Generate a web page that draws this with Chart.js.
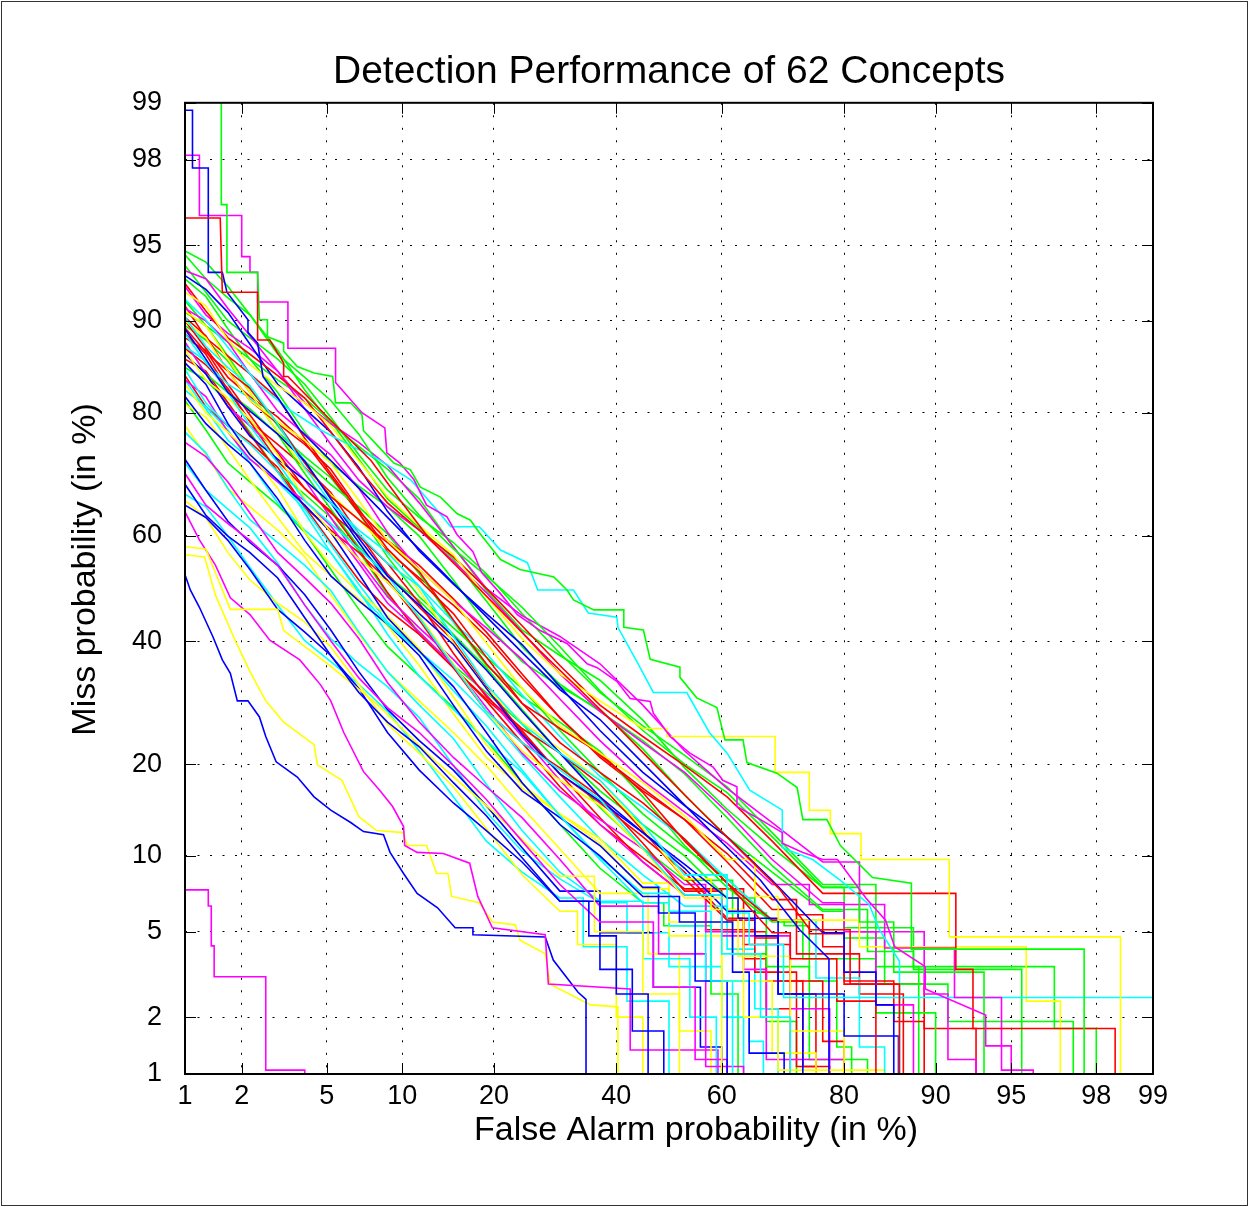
<!DOCTYPE html>
<html>
<head>
<meta charset="utf-8">
<script src="https://cdn.jsdelivr.net/npm/chart.js@4/dist/chart.umd.min.js"></script>
<style>
html,body{margin:0;padding:0;background:#fff;}
canvas{display:block;}
</style>
</head>
<body>
<canvas id="c" width="1249" height="1207"></canvas>
<script>
// ---------------- DATA (percent values) ----------------
const chartTitle = 'Detection Performance of 62 Concepts';
const xTitle = 'False Alarm probability (in %)';
const yTitle = 'Miss probability (in %)';
const axisMin = 1, axisMax = 99;
const tickValues = [1, 2, 5, 10, 20, 40, 60, 80, 90, 95, 98, 99];

// each curve: vertices [False Alarm %, Miss %]
const redCurves = [
  [[1,96.2],[1.55,96.2],[1.59,92.2],[2.4,92.2],[2.4,88.3],[2.75,88.3],[3.2,86.0],[3.2,84.5],[3.35,84.5],[4.25,81.7],[5.7,77.6],[7.6,73.0],[9.8,66.4],[12.5,59.3],[17,51.6],[20.9,45.8],[26.8,38.2],[33.4,31.4],[40.7,25.0],[48.3,19.2],[55.9,14.4],[63.4,10.5],[70.2,7.5],[75.1,5.1],[80.8,5.1],[80.8,2.9],[86.6,2.9],[86.6,0.5]],
  [[1,92.8],[1.3,90.8],[1.7,88.5],[2.2,86.9],[3,84.6],[4,81.9],[5.2,77.3],[6.8,71.6],[8.8,65.9],[11.5,61.0],[15,56.0],[19,50.0],[24,42.9],[30,35.6],[37,28.8],[45,23.9],[53,19.8],[61,15.9],[69,11.3],[77,7.2],[91.6,7.2],[91.6,3.4],[92.8,3.4],[92.8,1.75],[98.4,1.75],[98.4,0.5]],
  [[1,90.3],[1.3,88.7],[1.7,85.1],[2.2,81.6],[3,78.5],[4,75.5],[5.2,71.6],[6.8,64.8],[8.8,57.5],[11.5,51.6],[15,45.2],[19,37.1],[24,29.1],[30,23.0],[37,18.9],[45,15.2],[53,11.5],[61,7.9],[69,4.95],[72,4.95],[72,3.8],[79,3.8],[79,2.4],[84,2.4],[84,0.5]],
  [[1,89.4],[1.3,87.1],[1.7,85.1],[2.2,83.1],[3,78.5],[4,72.6],[5.2,67.0],[6.8,62.9],[8.8,58.7],[11.5,53.2],[15,44.0],[19,35.9],[24,29.1],[30,25.1],[37,21.5],[45,16.4],[53,11.3],[61,7.9],[69,5.6],[75,5.6],[75,4.9],[80,4.9],[80,3.0],[86,3.0],[86,1.9],[89,1.9],[89,0.5]],
  [[1,88.5],[1.3,87.3],[1.7,83.6],[2.2,79.7],[3,74.2],[4,68.4],[5.2,64.1],[6.8,59.9],[8.8,54.8],[11.5,47.2],[15,37.8],[19,30.2],[24,25.1],[30,21.5],[37,17.4],[45,12.3],[53,8.2],[61,5.6],[66,5.6],[66,4.7],[70,4.7],[70,3.0],[77,3.0],[77,1.5],[80,1.5],[80,0.5]],
  [[1,91.2],[1.3,88.5],[1.7,86.7],[2.2,84.8],[3,81.9],[4,76.4],[5.2,70.9],[6.8,64.4],[8.8,59.1],[11.5,54.4],[15,48.0],[19,41.7],[24,34.1],[30,26.8],[37,21.2],[45,16.9],[53,13.4],[61,9.5],[69,6.2],[73,6.2],[73,4.0],[82,4.0],[82,2.6],[87,2.6],[87,0.5]],
  [[1,87.5],[1.3,85.8],[1.7,83.1],[2.2,78.8],[3,72.9],[4,68.4],[5.2,64.4],[6.8,57.5],[8.8,49.2],[11.5,41.3],[15,35.2],[19,29.8],[24,24.8],[30,18.7],[37,13.6],[45,9.5],[53,7.1],[57,7.1],[57,5.1],[66,5.1],[66,3.3],[73,3.3],[73,1.1],[76,1.1],[76,0.5]],
  [[1,90.0],[1.3,87.5],[1.7,84.4],[2.2,82.1],[3,79.4],[4,75.8],[5.2,70.5],[6.8,64.1],[8.8,57.1],[11.5,52.0],[15,46.8],[19,40.9],[24,33.4],[30,26.8],[37,20.9],[45,16.6],[53,13.4],[61,10.2],[69,6.8],[73,6.8],[73,5.9],[77,5.9],[77,4.3],[80,4.3],[80,2.9],[89,2.9],[89,1.75],[93,1.75],[93,0.5]],
  [[1,88.9],[1.3,86.9],[1.7,82.9],[2.2,78.8],[3,75.5],[4,71.9],[5.2,67.7],[6.8,60.3],[8.8,52.8],[11.5,46.4],[15,40.1],[19,31.9],[24,24.5],[30,18.7],[37,15.2],[45,11.7],[53,8.7],[61,5.7],[64,5.7],[64,3.8],[68,3.8],[68,2.2],[72,2.2],[72,0.5]],
  [[1,86.4],[1.3,85.1],[1.7,81.3],[2.2,77.0],[3,71.2],[4,65.2],[5.2,61.0],[6.8,56.8],[8.8,51.6],[11.5,44.0],[15,35.2],[19,27.8],[24,23.0],[30,19.5],[37,15.9],[45,11.1],[53,7.35],[60,7.35],[60,5.0],[68,5.0],[68,3.0],[74,3.0],[74,1.1],[78,1.1],[78,0.5]],
  [[1,84.6],[1.3,80.8],[1.7,78.2],[2.2,75.8],[3,71.9],[4,65.2],[5.2,58.7],[6.8,51.6],[8.8,46.0],[11.5,41.3],[15,35.2],[19,29.5],[24,23.0],[30,17.1],[37,12.9],[45,9.85],[53,7.5],[64,7.5],[64,4.4],[72,4.4],[72,2.6],[76,2.6],[76,0.5]]
];
const greenCurves = [
  [[1.57,99.5],[1.57,96.7],[1.68,96.7],[1.68,93.5],[2.4,93.5],[2.45,90.1],[2.68,90.1],[2.68,88.6],[3.2,88],[3.2,87.2],[3.7,85.6],[4.4,84.9],[5.3,84.5],[5.45,81.3],[6.3,81.3],[7.0,79.7],[7.1,77.5],[8.2,75],[9.3,72.6],[10.7,71.5],[11.6,68.6],[13.6,66.9],[15.4,64],[17,62.8],[18.1,60.5],[20.9,55.5],[23.7,53.6],[29,52.2],[31.2,49.7],[32.3,47.8],[35.9,45.9],[41.4,45.9],[41.4,42.6],[45.1,42.1],[46.4,36.7],[52.1,35.3],[52.1,33.5],[55.3,30],[59.1,28.4],[60.6,23.4],[63.9,23.4],[64.6,20.2],[69.8,18.8],[73.1,17],[74,13.4],[77.6,13.4],[79.5,10.9],[83.6,8.3],[87.8,7.9],[87.8,4.2],[97.7,4.2],[97.7,0.5]],
  [[1,94.7],[1.3,94.1],[1.7,92.6],[2.2,90.5],[3,86.9],[4,84.4],[5.2,81.6],[6.8,77.0],[8.8,70.2],[11.5,63.7],[15,57.5],[19,52.4],[24,46.4],[30,39.0],[37,31.2],[45,24.8],[53,20.0],[61,16.4],[69,11.7],[77,7.6],[82,7.6],[82,5.5],[86,5.5],[86,3.3],[93.5,3.3],[93.5,0.5]],
  [[1,93.9],[1.3,92.2],[1.7,90.0],[2.2,88.5],[3,86.4],[4,83.6],[5.2,79.4],[6.8,73.9],[8.8,68.1],[11.5,63.3],[15,58.7],[19,52.8],[24,45.2],[30,37.8],[37,30.9],[45,25.5],[53,21.2],[61,17.1],[69,12.1],[77,7.8],[84,7.8],[84,5.2],[88,5.2],[88,3.5],[96.8,3.5],[96.8,1.75],[98,1.75],[98,0.5]],
  [[1,93.1],[1.3,91.9],[1.7,89.3],[2.2,86.4],[3,84.1],[4,81.9],[5.2,78.8],[6.8,73.2],[8.8,66.6],[11.5,61.4],[15,55.6],[19,47.6],[24,39.0],[30,32.3],[37,27.8],[45,23.3],[53,18.7],[61,13.6],[69,9.2],[77,6.2],[83,6.2],[83,4.1],[88,4.1],[88,3.4],[95.5,3.4],[95.5,0.5]],
  [[1,94.5],[1.3,93.1],[1.7,91.8],[2.2,90.5],[3,87.3],[4,82.9],[5.2,78.5],[6.8,75.2],[8.8,71.6],[11.5,66.6],[15,57.9],[19,49.6],[24,42.1],[30,37.4],[37,33.0],[45,26.4],[53,19.5],[61,14.5],[69,10.7],[77,7.6],[80,7.6],[80,4.7],[85,4.7],[85,2.9],[91,2.9],[91,1.9],[97.4,1.9],[97.4,0.5]],
  [[1,91.6],[1.3,89.6],[1.7,88.1],[2.2,86.4],[3,82.6],[4,77.3],[5.2,72.6],[6.8,68.8],[8.8,65.2],[11.5,59.9],[15,51.6],[19,43.2],[24,36.3],[30,31.9],[37,28.1],[45,22.1],[53,16.1],[61,11.7],[69,8.7],[77,6.1],[80,6.1],[80,5.2],[84,5.2],[84,3.5],[88.5,3.5],[88.5,0.5]],
  [[1,90.7],[1.3,89.6],[1.7,86.7],[2.2,83.1],[3,78.2],[4,72.9],[5.2,69.1],[6.8,65.2],[8.8,60.3],[11.5,52.8],[15,43.6],[19,35.6],[24,30.2],[30,26.1],[37,21.8],[45,15.9],[53,10.9],[61,7.6],[69,5.5],[74,5.5],[74,3.8],[84,3.8],[84,2.1],[90,2.1],[90,0.5]],
  [[1,88.1],[1.3,84.8],[1.7,82.6],[2.2,80.5],[3,77.0],[4,70.9],[5.2,64.8],[6.8,57.9],[8.8,52.4],[11.5,47.6],[15,41.3],[19,35.2],[24,28.1],[30,21.5],[37,16.6],[45,12.9],[53,10.0],[61,6.9],[66,6.9],[66,6.0],[68,6.0],[68,3.5],[75,3.5],[75,1.2],[83,1.2],[83,0.5]],
  [[1,89.6],[1.3,88.3],[1.7,86.2],[2.2,82.6],[3,77.3],[4,73.6],[5.2,70.2],[6.8,64.1],[8.8,56.0],[11.5,48.4],[15,42.5],[19,37.1],[24,31.6],[30,24.8],[37,18.9],[45,14.0],[53,10.7],[61,8.2],[69,5.6],[71,5.6],[71,5.3],[75,5.3],[75,3.0],[79,3.0],[79,1.4],[81,1.4],[81,0.5]],
  [[1,85.5],[1.3,84.1],[1.7,81.3],[2.2,77.3],[3,71.2],[4,67.4],[5.2,63.3],[6.8,57.1],[8.8,48.8],[11.5,41.7],[15,35.6],[19,30.9],[24,25.8],[30,20.0],[37,14.7],[45,10.7],[53,8.1],[62,8.1],[62,4.0],[68,4.0],[68,1.9],[73,1.9],[73,0.5]],
  [[1,81.6],[1.3,77.6],[1.7,72.6],[2.2,69.5],[3,65.5],[4,60.6],[5.2,53.6],[6.8,46.0],[8.8,39.0],[11.5,33.7],[15,28.4],[19,23.3],[24,17.6],[30,12.9],[37,9.0],[45,6.6],[49,6.6],[49,5.3],[58,5.3],[58,2.6],[63,2.6],[63,0.5]]
];
const blueCurves = [
  [[1,98.9],[1.1,98.9],[1.1,97.8],[1.34,97.8],[1.34,93.5],[1.59,93.5],[1.68,92.2],[2.15,90.1],[2.15,89.0],[2.4,88.0],[2.55,84.5],[3.05,81.7],[3.8,77.6],[5.2,73.0],[6.9,68.2],[9.8,61.0],[13.6,53.5],[18.2,45.8],[23.8,38.2],[30.0,31.4],[37.0,26.5],[44.5,20.5],[52.1,15.5],[59.6,11.4],[67.0,8.1],[73.5,5.1],[77.9,3.8],[77.9,0.5]],
  [[1,93.3],[1.3,92.4],[1.7,90.7],[2.2,87.9],[3,83.6],[4,80.5],[5.2,77.3],[6.8,71.9],[8.8,64.4],[11.5,57.1],[15,50.8],[19,45.2],[24,39.4],[30,31.9],[37,24.8],[45,18.9],[53,14.9],[61,11.7],[69,8.1],[77,4.95],[80,4.95],[80,3.3],[84,3.3],[84,2.3],[86,2.3],[86,0.5]],
  [[1,89.3],[1.3,86.4],[1.7,82.6],[2.2,80.2],[3,77.0],[4,72.9],[5.2,66.6],[6.8,59.5],[8.8,52.4],[11.5,46.8],[15,40.9],[19,34.8],[24,27.8],[30,21.5],[37,15.9],[45,12.1],[53,9.3],[61,6.9],[63,6.9],[63,5.7],[70,5.7],[70,2.6],[80,2.6],[80,1.6],[86.5,1.6],[86.5,0.5]],
  [[1,86.9],[1.3,84.8],[1.7,80.8],[2.2,76.7],[3,73.2],[4,69.8],[5.2,65.9],[6.8,58.7],[8.8,51.2],[11.5,45.2],[15,39.4],[19,31.6],[24,24.2],[30,18.7],[37,15.4],[45,12.1],[53,9.0],[61,6.1],[66,6.1],[66,4.8],[70,4.8],[70,2.6],[74,2.6],[74,0.5]],
  [[1,86.0],[1.3,83.6],[1.7,78.5],[2.2,73.9],[3,69.8],[4,65.5],[5.2,60.6],[6.8,52.8],[8.8,44.4],[11.5,38.2],[15,31.9],[19,24.5],[24,17.6],[30,12.9],[37,10.0],[45,7.0],[52,7.0],[52,5.5],[62,5.5],[62,3.3],[65,3.3],[65,1.3],[71,1.3],[71,0.5]],
  [[1,82.1],[1.3,78.5],[1.7,75.5],[2.2,72.6],[3,66.6],[4,59.1],[5.2,52.4],[6.8,47.6],[8.8,43.2],[11.5,37.4],[15,28.8],[19,21.8],[24,16.6],[30,13.6],[37,10.9],[45,7.6],[48,7.6],[48,6.0],[55,6.0],[55,3.0],[61,3.0],[61,0.5]],
  [[1,69.1],[1.3,63.7],[1.7,59.9],[2.2,56.8],[3,52.0],[4,44.4],[5.2,37.4],[6.8,30.9],[8.8,26.1],[11.5,22.4],[15,17.6],[19,13.8],[24,9.85],[30,6.7],[35,6.7],[35,4.8],[40,4.8],[40,2.6],[46,2.6],[46,0.5]],
  [[1,65.5],[1.3,63.3],[1.7,59.1],[2.2,53.6],[3,46.0],[4,41.7],[5.2,37.4],[6.8,31.6],[8.8,24.5],[11.5,19.2],[15,15.2],[19,12.3],[24,9.5],[30,6.7],[37,6.7],[37,3.4],[43,3.4],[43,1.7],[49,1.7],[49,0.5]],
  [[1,73.2],[1.3,68.1],[1.7,62.6],[2.2,58.7],[3,54.4],[4,48.8],[5.2,42.1],[6.8,34.5],[8.8,28.1],[11.5,23.3],[15,19.2],[19,14.9],[24,10.7],[30,7.35],[37,7.35],[37,4.95],[47,4.95],[47,2.8],[56,2.8],[56,1.4],[60,1.4],[60,0.5]],
  [[1,52.6],[1.07,49.7],[1.2,46.4],[1.42,40.8],[1.59,36.6],[1.75,34.2],[1.9,29.5],[2.15,29.5],[2.45,26.9],[2.63,23.9],[2.95,20.3],[3.7,18.3],[4.4,15.9],[5.2,14.4],[6.3,13.1],[7.1,12.2],[8.5,11.9],[9.0,10.3],[10.1,8.6],[11.3,7.2],[13.3,6.3],[15.2,5.2],[17.3,5.2],[17.3,4.85],[27.6,4.75],[28.9,3.75],[33.1,2.65],[34.5,2.45],[34.5,0.5]]
];
const magentaCurves = [
  [[1,98.1],[1.2,98.1],[1.2,96.3],[2.0,96.3],[2.0,94.4],[2.2,94.4],[2.2,93.5],[2.4,93.5],[2.4,91.5],[3.35,91.5],[3.35,87.5],[5.45,87.5],[5.45,83.8],[7.0,80],[8.6,77.9],[8.75,74.2],[9.8,72.6],[11,69.9],[12.2,65.5],[14.3,63.4],[15.4,60.2],[17.3,57],[18.4,53],[20.9,49],[23.3,45],[26.8,42],[31.2,39.6],[34.7,35.9],[36.5,35.2],[40.1,32.8],[42.6,29.9],[46.4,29.4],[47,27.5],[50.2,23.9],[54,21.5],[58.4,19.6],[60.2,17.9],[62.8,17.1],[62.8,14.8],[67,13.4],[70.7,12.1],[70.7,11.1],[74,10.3],[77,9.7],[79.1,9.7],[82.8,6.9],[85.1,5.6],[86.1,4.3],[89.1,3.5],[89.1,2.75],[93.6,2.05],[93.6,1.42],[95,1.42],[95,0.5]],
  [[1,93.6],[1.3,93.1],[1.7,91.0],[2.2,88.7],[3,85.1],[4,81.3],[5.2,78.5],[6.8,75.8],[8.8,72.2],[11.5,65.9],[15,57.9],[19,50.0],[24,44.8],[30,40.9],[37,35.9],[45,28.8],[53,21.8],[61,16.9],[69,13.1],[77,9.5],[82,9.5],[82,6.5],[85,6.5],[85,4.25],[91.5,4.25],[91.5,2.5],[94.5,2.5],[94.5,1.05],[96,1.05],[96,0.5]],
  [[1,92.6],[1.3,90.5],[1.7,88.9],[2.2,87.5],[3,85.1],[4,80.5],[5.2,75.5],[6.8,69.8],[8.8,65.2],[11.5,61.0],[15,55.2],[19,49.2],[24,41.7],[30,34.1],[37,27.8],[45,23.0],[53,18.9],[61,14.2],[69,9.7],[77,6.6],[80,6.6],[80,5.0],[84,5.0],[84,2.3],[88,2.3],[88,0.5]],
  [[1,91.0],[1.3,90.0],[1.7,88.1],[2.2,84.8],[3,80.2],[4,77.0],[5.2,73.9],[6.8,68.4],[8.8,60.6],[11.5,53.6],[15,47.6],[19,42.5],[24,36.7],[30,29.8],[37,23.3],[45,17.9],[53,14.2],[61,11.1],[69,7.8],[75,7.8],[75,6.5],[82,6.5],[82,5.0],[89,5.0],[89,2.6],[91,2.6],[91,1.2],[93,1.2],[93,0.5]],
  [[1,88.1],[1.3,84.8],[1.7,80.8],[2.2,78.2],[3,74.5],[4,69.8],[5.2,63.3],[6.8,55.6],[8.8,48.4],[11.5,42.5],[15,36.7],[19,30.5],[24,23.9],[30,17.9],[37,12.9],[45,9.5],[53,7.1],[60,7.1],[60,4.8],[72,4.8],[72,2.2],[78,2.2],[78,0.5]],
  [[1,84.1],[1.3,82.1],[1.7,77.3],[2.2,73.2],[3,69.5],[4,66.3],[5.2,61.8],[6.8,54.8],[8.8,47.2],[11.5,41.7],[15,35.6],[19,28.4],[24,21.5],[30,16.6],[37,13.4],[45,10.6],[53,7.8],[57,7.8],[57,5.0],[64,5.0],[64,3.4],[68,3.4],[68,1.2],[80,1.2],[80,0.5]],
  [[1,70.9],[1.3,65.5],[1.7,62.2],[2.2,59.1],[3,54.4],[4,46.8],[5.2,40.1],[6.8,33.4],[8.8,28.4],[11.5,24.5],[15,19.8],[19,15.6],[24,11.3],[30,7.8],[37,5.5],[47,5.5],[47,2.8],[55,2.8],[55,1.2],[61,1.2],[61,0.5]],
  [[1,75.8],[1.3,73.6],[1.7,69.5],[2.2,64.1],[3,56.8],[4,52.0],[5.2,47.2],[6.8,40.5],[8.8,32.6],[11.5,26.1],[15,20.9],[19,17.1],[24,13.6],[30,9.7],[37,6.4],[48,6.4],[48,4.0],[57,4.0],[57,1.1],[64,1.1],[64,0.5]],
  [[1,64.3],[1.2,59.2],[1.46,54.5],[1.75,48.2],[2.2,45.0],[2.75,40.2],[3.8,36.6],[4.7,32.2],[5.2,29.5],[5.9,24.5],[7.1,19.0],[8.2,16.7],[9.2,14.8],[10.1,12.7],[10.2,10.9],[11.3,10.3],[13.9,10.2],[16.9,9.4],[17.9,7.0],[19.8,5.2],[27.6,4.85],[28.1,2.9],[42.6,2.75],[42.6,1.35],[59.3,1.35],[59.3,0.5]],
  [[1,7.43],[1.34,7.43],[1.34,6.41],[1.39,6.41],[1.39,4.34],[1.44,4.34],[1.44,3.14],[2.63,3.14],[2.63,1.05],[4.0,1.05],[4.0,0.5]]
];
const cyanCurves = [
  [[1,91.7],[1.3,90.1],[1.75,87.3],[2.45,83.5],[3.4,80.4],[4.7,77.6],[6.3,75.3],[8.2,73.1],[10.7,69.9],[13.6,63.9],[14.7,61.6],[18.1,61.6],[20.9,57.3],[24.8,54.9],[26.4,49.7],[32.3,49.7],[34.9,45.3],[40.1,44.5],[40.3,42.6],[44.1,35.9],[47,30.9],[53.4,30.9],[57.7,24.5],[61,21.5],[65.1,16.7],[70.7,14.4],[70.7,10.7],[75.5,9.7],[79.5,8.1],[83.2,6.5],[84.4,5.1],[86.6,3.7],[86.6,0.5]],
  [[1,90.3],[1.3,87.7],[1.7,85.5],[2.2,83.4],[3,78.5],[4,71.9],[5.2,65.9],[6.8,61.0],[8.8,56.8],[11.5,50.4],[15,40.9],[19,32.3],[24,25.8],[30,21.5],[37,17.9],[45,12.9],[53,8.5],[61,8.5],[61,6.0],[65,6.0],[65,4.4],[70.9,4.4],[70.9,2.5],[99.5,2.5]],
  [[1,87.7],[1.3,86.2],[1.7,82.6],[2.2,78.2],[3,72.6],[4,66.3],[5.2,62.2],[6.8,57.5],[8.8,52.4],[11.5,44.4],[15,35.6],[19,27.8],[24,23.0],[30,19.2],[37,15.6],[45,10.7],[53,7.1],[60,7.1],[60,4.0],[67,4.0],[67,2.0],[72,2.0],[72,0.5]],
  [[1,88.9],[1.3,86.0],[1.7,83.6],[2.2,81.9],[3,78.5],[4,72.9],[5.2,66.6],[6.8,60.3],[8.8,54.8],[11.5,50.4],[15,43.6],[19,37.8],[24,30.5],[30,23.9],[37,18.4],[45,14.7],[53,11.5],[61,8.2],[69,5.6],[76,5.6],[76,3.1],[82,3.1],[82,1.4],[85,1.4],[85,0.5]],
  [[1,85.3],[1.3,81.3],[1.7,78.2],[2.2,75.5],[3,71.2],[4,64.1],[5.2,56.8],[6.8,49.2],[8.8,43.2],[11.5,38.2],[15,31.2],[19,25.5],[24,19.2],[30,13.8],[37,9.85],[45,7.2],[50,7.2],[50,6.1],[58,6.1],[58,3.0],[65,3.0],[65,1.5],[67.5,1.5],[67.5,0.5]],
  [[1,82.9],[1.3,80.8],[1.7,77.6],[2.2,72.6],[3,65.9],[4,61.0],[5.2,56.8],[6.8,49.6],[8.8,41.3],[11.5,33.7],[15,28.1],[19,23.3],[24,18.9],[30,13.8],[37,9.7],[45,6.6],[50,6.6],[50,5.3],[57,5.3],[57,3.0],[62,3.0],[62,0.5]],
  [[1,84.1],[1.3,80.5],[1.7,76.1],[2.2,73.2],[3,69.5],[4,64.8],[5.2,58.3],[6.8,50.8],[8.8,43.6],[11.5,38.2],[15,33.0],[19,27.4],[24,21.2],[30,15.9],[37,11.5],[45,8.5],[53,6.4],[61,6.4],[61,4.2],[66,4.2],[66,2.2],[70,2.2],[70,0.5]],
  [[1,77.3],[1.3,74.2],[1.7,68.4],[2.2,62.9],[3,58.7],[4,54.4],[5.2,49.6],[6.8,41.7],[8.8,34.5],[11.5,28.8],[15,23.6],[19,17.4],[24,12.3],[30,8.7],[37,6.7],[45,6.7],[45,3.8],[54,3.8],[54,2.0],[59,2.0],[59,0.5]],
  [[1,72.6],[1.3,68.1],[1.7,64.8],[2.2,61.4],[3,54.8],[4,46.8],[5.2,40.5],[6.8,35.9],[8.8,31.9],[11.5,26.8],[15,19.8],[19,14.2],[24,10.4],[30,8.2],[37,6.6],[42,6.6],[42,4.95],[50,4.95],[50,3.5],[60,3.5],[60,2.0],[64,2.0],[64,0.5]],
  [[1,67.4],[1.3,65.2],[1.7,59.9],[2.2,54.0],[3,46.8],[4,40.1],[5.2,36.3],[6.8,32.3],[8.8,27.8],[11.5,21.8],[15,15.9],[19,11.3],[24,8.7],[30,6.9],[34,6.9],[34,4.3],[42,4.3],[42,2.4],[50,2.4],[50,0.5]]
];
const yellowCurves = [
  [[1,92.2],[1.3,91.2],[1.7,88.3],[2.2,85.8],[3,83.4],[4,81.3],[5.2,78.2],[6.8,72.9],[8.8,67.0],[11.5,61.8],[15,56.4],[19,48.4],[24,40.5],[30,34.1],[37,29.5],[45,25.1],[49.6,25.1],[49.6,23.9],[69.5,23.9],[69.5,18.9],[75,18.9],[75,14.4],[78.1,14.4],[78.1,12.0],[82.2,12.0],[82.2,9.7],[91.1,9.7],[91.1,4.75],[98.5,4.75],[98.5,0.5]],
  [[1,90.0],[1.3,88.5],[1.7,85.1],[2.2,81.6],[3,78.8],[4,76.1],[5.2,72.6],[6.8,66.3],[8.8,59.1],[11.5,53.6],[15,47.6],[19,39.7],[24,31.6],[30,25.5],[37,21.5],[45,17.6],[53,13.8],[61,9.7],[66,9.7],[66,7.0],[70,7.0],[70,5.6],[82,5.6],[82,4.3],[95.7,4.3],[95.7,2.4],[97,2.4],[97,0.5]],
  [[1,87.3],[1.3,84.1],[1.7,81.9],[2.2,79.1],[3,73.9],[4,66.6],[5.2,60.6],[6.8,55.6],[8.8,51.2],[11.5,44.8],[15,35.9],[19,27.8],[24,21.8],[30,17.9],[37,14.9],[45,10.6],[53,6.9],[63,6.9],[63,3.9],[72,3.9],[72,1.7],[80,1.7],[80,0.5]],
  [[1,90.8],[1.3,89.6],[1.7,86.4],[2.2,82.6],[3,77.3],[4,71.6],[5.2,67.4],[6.8,62.9],[8.8,57.5],[11.5,49.6],[15,39.7],[19,31.6],[24,26.1],[30,22.1],[37,17.9],[45,12.5],[53,8.2],[58,8.2],[58,6.2],[64,6.2],[64,2.0],[70,2.0],[70,1.05],[85,1.05],[85,0.5]],
  [[1,83.6],[1.3,80.0],[1.7,77.3],[2.2,74.2],[3,68.4],[4,60.6],[5.2,54.4],[6.8,49.2],[8.8,44.8],[11.5,38.6],[15,30.2],[19,22.7],[24,17.4],[30,14.0],[37,11.5],[45,7.9],[50,7.9],[50,5.5],[60,5.5],[60,3.0],[69,3.0],[69,1.3],[76,1.3],[76,0.5]],
  [[1,81.1],[1.3,79.4],[1.7,74.9],[2.2,69.8],[3,63.3],[4,56.8],[5.2,52.4],[6.8,48.0],[8.8,42.9],[11.5,35.6],[15,27.4],[19,20.9],[24,16.9],[30,14.0],[37,11.1],[45,7.5],[50,7.5],[50,4.8],[60,4.8],[60,0.5]],
  [[1,57.9],[1.3,57.5],[1.5,52],[1.75,46],[3.0,46],[3.2,42],[5,36],[8,29],[13,20.5],[20,14.2],[30,8.4],[36,8.4],[36,5.0],[45,5.0],[45,2.6],[52,2.6],[52,0.5]],
  [[1,78.2],[1.3,73.9],[1.7,68.4],[2.2,65.2],[3,61.0],[4,56.0],[5.2,48.8],[6.8,41.3],[8.8,34.5],[11.5,29.5],[15,24.5],[19,19.8],[24,14.7],[30,10.6],[37,7.2],[46,7.2],[46,4.0],[52,4.0],[52,1.7],[58,1.7],[58,0.5]],
  [[1,66.3],[1.3,63.3],[1.7,56.8],[2.2,51.6],[3,47.2],[4,43.6],[5.2,39.0],[6.8,32.3],[8.8,25.8],[11.5,21.5],[15,17.1],[19,12.5],[24,8.5],[30,6.1],[33,6.1],[33,4.4],[40,4.4],[40,2.0],[45,2.0],[45,0.5]],
  [[1,56.4],[1.28,56.0],[1.46,48.8],[1.85,40.2],[2.2,34.5],[2.63,29.5],[3.2,26.1],[4.4,22.7],[4.55,19.9],[5.8,17.9],[6.8,13.7],[8.0,12.3],[10.1,12.1],[10.4,10.9],[12.2,10.9],[13.2,8.6],[14.4,8.6],[14.8,7.0],[18.1,6.6],[19.8,5.5],[23.0,5.35],[23.7,4.6],[27.6,4.0],[28.4,2.9],[35.3,2.3],[40.3,2.25],[40.3,0.5]]
];

// ---------------- STYLE ----------------
const seriesGroups = [
  { curves: redCurves, color: '#ff0000' },
  { curves: greenCurves, color: '#00ff00' },
  { curves: blueCurves, color: '#0000ff' },
  { curves: magentaCurves, color: '#ff00ff' },
  { curves: cyanCurves, color: '#00ffff' },
  { curves: yellowCurves, color: '#ffff00' }
];

// ---------------- normal-deviate (DET) scale ----------------
function probit(p) {
  p = Math.min(Math.max(p, 1e-9), 1 - 1e-9);
  const a = [-3.969683028665376e+01, 2.209460984245205e+02, -2.759285104469687e+02, 1.383577518672690e+02, -3.066479806614716e+01, 2.506628277459239e+00];
  const b = [-5.447609879822406e+01, 1.615858368580409e+02, -1.556989798598866e+02, 6.680131188771972e+01, -1.328068155288572e+01];
  const c = [-7.784894002430293e-03, -3.223964580411365e-01, -2.400758277161838e+00, -2.549671010388090e+00, 4.374664141464968e+00, 2.938163982698783e+00];
  const d = [7.784695709041462e-03, 3.224671290700398e-01, 2.445134137142996e+00, 3.754408661907416e+00];
  const pl = 0.02425, ph = 1 - pl;
  let q, r;
  if (p < pl) {
    q = Math.sqrt(-2 * Math.log(p));
    return (((((c[0]*q+c[1])*q+c[2])*q+c[3])*q+c[4])*q+c[5]) / ((((d[0]*q+d[1])*q+d[2])*q+d[3])*q+1);
  }
  if (p <= ph) {
    q = p - 0.5; r = q * q;
    return (((((a[0]*r+a[1])*r+a[2])*r+a[3])*r+a[4])*r+a[5])*q / (((((b[0]*r+b[1])*r+b[2])*r+b[3])*r+b[4])*r+1);
  }
  q = Math.sqrt(-2 * Math.log(1 - p));
  return -(((((c[0]*q+c[1])*q+c[2])*q+c[3])*q+c[4])*q+c[5]) / ((((d[0]*q+d[1])*q+d[2])*q+d[3])*q+1);
}
function normCdf(z) {
  const t = 1 / (1 + 0.3275911 * Math.abs(z) / Math.SQRT2);
  const y = 1 - (((((1.061405429*t - 1.453152027)*t) + 1.421413741)*t - 0.284496736)*t + 0.254829592)*t*Math.exp(-z*z/2);
  return z >= 0 ? (1 + y) / 2 : (1 - y) / 2;
}

class ProbitScale extends Chart.Scale {
  determineDataLimits() { this.min = axisMin; this.max = axisMax; }
  buildTicks() { return tickValues.map(v => ({ value: v })); }
  getLabelForValue(v) { return String(v); }
  configure() {
    super.configure();
    this._zStart = probit(this.min / 100);
    this._zRange = probit(this.max / 100) - this._zStart;
  }
  getPixelForValue(v) {
    return this.getPixelForDecimal((probit(v / 100) - this._zStart) / this._zRange);
  }
  getValueForPixel(px) {
    return 100 * normCdf(this.getDecimalForPixel(px) * this._zRange + this._zStart);
  }
}
ProbitScale.id = 'probit';
ProbitScale.defaults = {};
Chart.register(ProbitScale);

const datasets = [];
const maxCount = Math.max(...seriesGroups.map(g => g.curves.length));
for (let i = 0; i < maxCount; i++) {
  for (const g of seriesGroups) {
    if (!g.curves[i]) continue;
    datasets.push({
      data: g.curves[i].map(([fa, miss]) => ({ x: fa, y: miss })),
      borderColor: g.color,
      borderWidth: 1.6,
      pointRadius: 0,
      fill: false,
      tension: 0
    });
  }
}

const FONT = 'Liberation Sans, Arial, Helvetica, sans-serif';
Chart.defaults.font.family = FONT;
Chart.defaults.color = '#000';

const framePlugin = {
  id: 'frame',
  afterDatasetsDraw(chart) {
    const { ctx, chartArea: a, scales: { x, y } } = chart;
    const tl = 11;
    ctx.save();
    ctx.strokeStyle = '#000';
    ctx.lineWidth = 1;
    ctx.beginPath();
    x.ticks.forEach(t => {
      const px = Math.round(x.getPixelForValue(t.value)) + 0.5;
      ctx.moveTo(px, a.bottom); ctx.lineTo(px, a.bottom - tl);
      ctx.moveTo(px, a.top); ctx.lineTo(px, a.top + tl);
    });
    y.ticks.forEach(t => {
      const py = Math.round(y.getPixelForValue(t.value)) + 0.5;
      ctx.moveTo(a.left, py); ctx.lineTo(a.left + tl, py);
      ctx.moveTo(a.right, py); ctx.lineTo(a.right - tl, py);
    });
    ctx.stroke();
    ctx.lineWidth = 2;
    ctx.strokeRect(a.left, a.top, a.right - a.left, a.bottom - a.top);
    ctx.restore();
  },
  afterDraw(chart) {
    const { ctx, chartArea: a, width, height } = chart;
    ctx.save();
    ctx.fillStyle = '#000';
    ctx.font = '34px ' + FONT;
    ctx.textAlign = 'center';
    ctx.textBaseline = 'alphabetic';
    ctx.fillText(xTitle, (a.left + a.right) / 2 + 27, a.bottom + 66);
    ctx.translate(a.left - 99, (a.top + a.bottom) / 2 - 19);
    ctx.rotate(-Math.PI / 2);
    ctx.textBaseline = 'middle';
    ctx.fillText(yTitle, 0, 0);
    ctx.restore();
    ctx.save();
    ctx.strokeStyle = '#333';
    ctx.lineWidth = 1;
    ctx.strokeRect(1.5, 1.5, width - 3, height - 3);
    ctx.restore();
  }
};

const axisCommon = {
  type: 'probit',
  grid: { display: true, color: '#000', lineWidth: 1, drawTicks: false },
  border: { display: false, dash: [2, 10.5] },
  ticks: { autoSkip: false, maxRotation: 0, font: { size: 27 }, color: '#000' }
};

new Chart(document.getElementById('c'), {
  type: 'line',
  data: { datasets },
  options: {
    responsive: false,
    animation: false,
    devicePixelRatio: 1,
    events: [],
    layout: { padding: { left: 0, right: 96, top: 0, bottom: 0 } },
    plugins: {
      legend: { display: false },
      tooltip: { enabled: false },
      title: {
        display: true,
        text: chartTitle,
        fullSize: false,
        font: { size: 39, weight: 'normal' },
        color: '#000',
        padding: { top: 49, bottom: 7 }
      }
    },
    scales: {
      x: Object.assign({}, axisCommon, {
        position: 'bottom',
        ticks: Object.assign({}, axisCommon.ticks, { padding: 6 }),
        afterFit(s) { s.height = 133; }
      }),
      y: Object.assign({}, axisCommon, {
        position: 'left',
        ticks: Object.assign({}, axisCommon.ticks, { padding: 23 }),
        afterFit(s) { s.width = 185; }
      })
    }
  },
  plugins: [framePlugin]
});
</script>
</body>
</html>
